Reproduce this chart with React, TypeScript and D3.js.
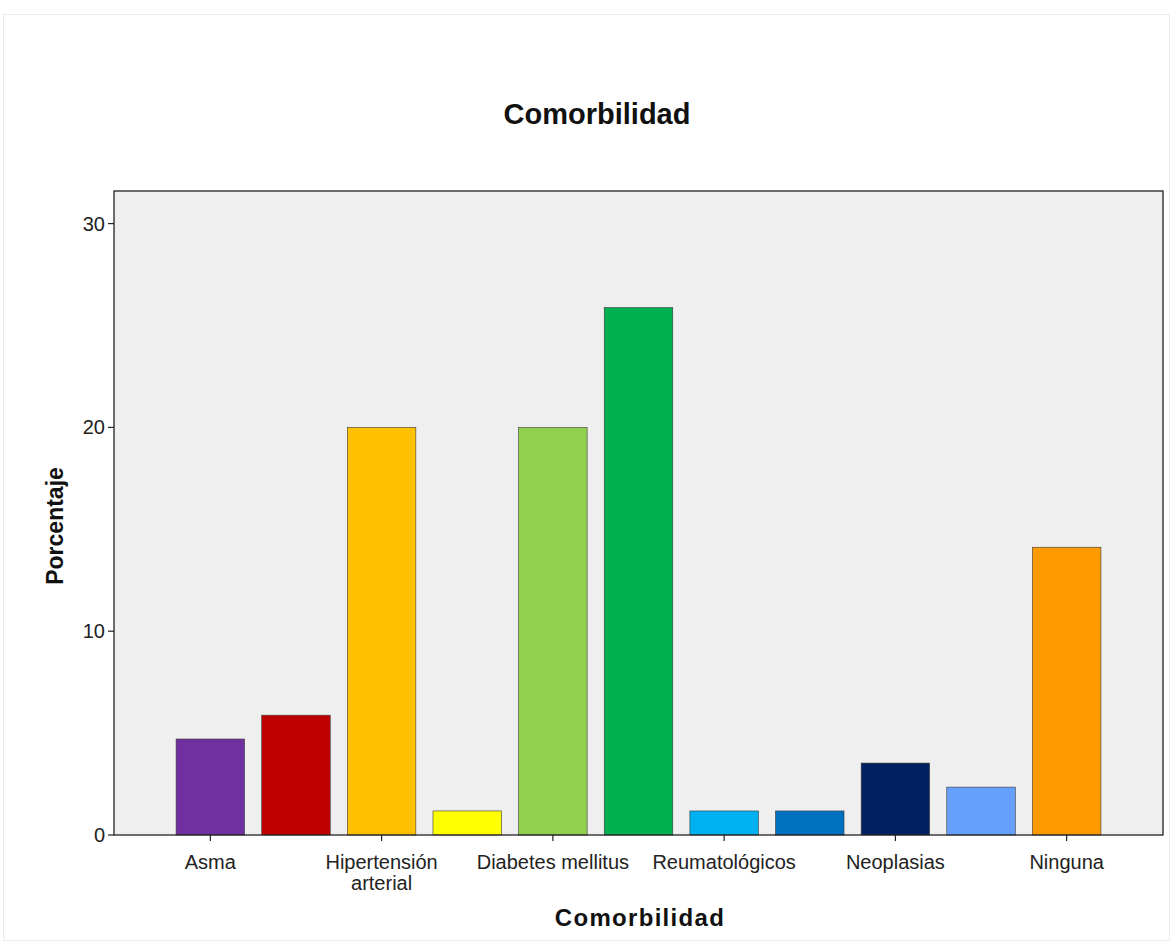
import React from "react";
import * as d3 from "d3";

const categories = ["Asma", "c2", "Hipertensión arterial", "c4", "Diabetes mellitus", "c6", "Reumatológicos", "c8", "Neoplasias", "c10", "Ninguna"];
const tickLabels = [["Asma"], [], ["Hipertensión", "arterial"], [], ["Diabetes mellitus"], [], ["Reumatológicos"], [], ["Neoplasias"], [], ["Ninguna"]];
const values = [4.71, 5.88, 20.0, 1.18, 20.0, 25.88, 1.18, 1.18, 3.53, 2.35, 14.12];
const colors = ["#7030a0", "#c00000", "#ffc000", "#ffff00", "#92d050", "#00b050", "#00b0f0", "#0070c0", "#002060", "#66a0ff", "#ff9900"];
const yTicks = [0, 10, 20, 30];

const W = 1172, H = 945;
const left = 114, right = 1163, top = 191, bottom = 835;

export default function App() {
  const x = d3.scaleBand<number>().domain(d3.range(categories.length)).range([left, right]).paddingInner(0.2).paddingOuter(0.725);
  const y = d3.scaleLinear().domain([0, 31.6]).range([bottom, top]);
  const font = "'Liberation Sans', Arial, sans-serif";
  return (
    <svg width={W} height={H} style={{ position: "absolute", left: 0, top: 0, background: "#fff" }} fontFamily={font}>
      <rect x={3.5} y={14.5} width={1166} height={926} fill="none" stroke="#ececec" />
      <text x={597} y={116} textAnchor="middle" dominantBaseline="middle" fontSize={29} fontWeight="bold" fill="#111">Comorbilidad</text>
      <rect x={left} y={top} width={right - left} height={bottom - top} fill="#efefef" />
      {values.map((v, i) => (
        <rect key={i} x={x(i)!} y={y(v)} width={x.bandwidth()} height={bottom - y(v)} fill={colors[i]} stroke="#3a3a3a" strokeWidth={0.6} />
      ))}
      <rect x={left} y={top} width={right - left} height={bottom - top} fill="none" stroke="#222" strokeWidth={1.3} />
      {yTicks.map(t => (
        <g key={t}>
          <line x1={left - 6} x2={left} y1={y(t)} y2={y(t)} stroke="#222" strokeWidth={1.2} />
          <text x={left - 9} y={y(t)} textAnchor="end" dominantBaseline="central" fontSize={20} fill="#222">{t}</text>
        </g>
      ))}
      {tickLabels.map((lab, i) => lab.length === 0 ? null : (
        <g key={i}>
          <line x1={x(i)! + x.bandwidth() / 2} x2={x(i)! + x.bandwidth() / 2} y1={bottom} y2={bottom + 6} stroke="#222" strokeWidth={1.2} />
          {lab.map((l, j) => (
            <text key={j} x={x(i)! + x.bandwidth() / 2} y={864 + j * 21} textAnchor="middle" dominantBaseline="middle" fontSize={20} fill="#222">{l}</text>
          ))}
        </g>
      ))}
      <text x={640} y={920} textAnchor="middle" dominantBaseline="middle" fontSize={24} fontWeight="bold" letterSpacing={1.3} fill="#111">Comorbilidad</text>
      <text transform={`translate(57,526) rotate(-90)`} textAnchor="middle" dominantBaseline="middle" fontSize={23} fontWeight="bold" fill="#111">Porcentaje</text>
    </svg>
  );
}
